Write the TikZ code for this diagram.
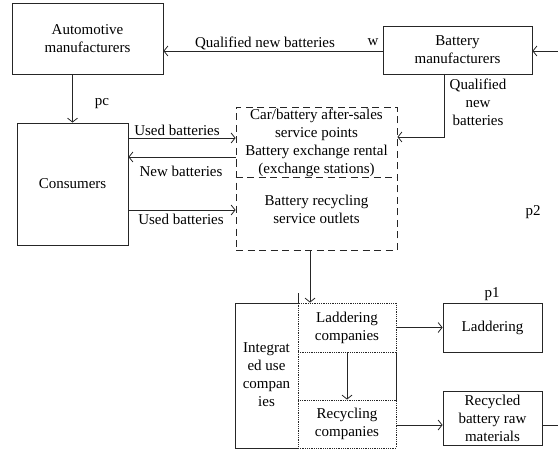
\documentclass[tikz,border=0pt]{standalone}
\usepackage{fontspec}
\setmainfont{Liberation Serif}
\usetikzlibrary{arrows.meta}

\tikzset{
  lbl/.style={inner sep=0pt, font=\fontsize{15}{18}\selectfont, align=center},
  boxed/.style={draw=black!85, line width=0.8pt, inner sep=0pt, font=\fontsize{15}{18}\selectfont, align=center},
  dotbox/.style={draw=black!85, line width=0.8pt, densely dotted, inner sep=0pt, font=\fontsize{15}{18}\selectfont, align=center},
  conn/.style={draw=black!85, line width=0.8pt, -{Straight Barb[length=4pt,width=10pt]}},
  plain/.style={draw=black!85, line width=0.8pt}
}

\begin{document}
\begin{tikzpicture}[x=1pt,y=-1pt]
\useasboundingbox (0,0) rectangle (558,452);

% main actors
\node[boxed, minimum width=151pt, minimum height=71pt] (auto) at (87.5,38.5) {Automotive\\manufacturers};
\node[boxed, minimum width=149pt, minimum height=48pt] (batt) at (457.5,50) {Battery\\manufacturers};
\node[boxed, minimum width=111pt, minimum height=122pt] (cons) at (72.5,184) {Consumers};

% service network (dashed)
\node[draw=black!85, line width=0.8pt, dash pattern=on 7pt off 4.5pt, minimum width=161pt, minimum height=143pt, inner sep=0pt] (hub) at (316.5,178.5) {};
\draw[black!85, line width=0.8pt, dash pattern=on 7pt off 4.5pt] (hub.west |- 0,177) -- (hub.east |- 0,177);
\node[lbl] (svc) at (316.5,143) {Car/battery after-sales\\service points\\Battery exchange rental\\(exchange stations)};
\node[lbl] (rec) at (316.5,209) {Battery recycling\\service outlets};

% integrated use companies
\draw[plain] (298,293) -- (298,303) -- (235,303) -- (235,448) -- (298,448);
\draw[plain] (396,352) -- (396,400);
\draw[black!85, line width=0.8pt, densely dotted] (298,352) -- (298,400);
\node[lbl] (intg) at (266.5,375) {Integrat\\ed use\\compan\\ies};
\node[dotbox, minimum width=98pt, minimum height=49pt] (lc) at (347,327.5) {Laddering\\companies};
\node[dotbox, minimum width=98pt, minimum height=48pt] (rc) at (347,424) {Recycling\\companies};

% outputs
\node[boxed, minimum width=99pt, minimum height=49pt] (lad) at (492.5,327.5) {Laddering};
\node[boxed, minimum width=99pt, minimum height=54pt] (raw) at (492.5,418) {Recycled\\battery raw\\materials};

% free ends at the right edge
\coordinate (inR) at (558,51);
\coordinate (outR) at (558,425);

% flows
\draw[conn] (batt.west |- 0,51) -- (auto.east |- 0,51);
\draw[conn] (inR) -- (batt.east |- inR);
\draw[conn] (cons.north |- auto.south) -- (cons.north);
\draw[conn] (444,74) |- (hub.east |- 0,137);
\draw[conn] (cons.east |- 0,138) -- (hub.west |- 0,138);
\draw[conn] (hub.west |- 0,157) -- (cons.east |- 0,157);
\draw[conn] (cons.east |- 0,210) -- (hub.west |- 0,210);
\draw[conn] (hub.south -| 310,0) -- (lc.north -| 310,0);
\draw[conn] (lc.south) -- (rc.north);
\draw[conn] (lc.east) -- (lad.west);
\draw[conn] (rc.east |- 0,425) -- (raw.west |- 0,425);
\draw[plain] (raw.east |- outR) -- (outR);

% labels
\node[lbl] (lq) at (265,43) {Qualified new batteries};
\node[lbl] (lw) at (373,42) {w};
\node[lbl] (lq2) at (478,102) {Qualified\\new\\batteries};
\node[lbl] (lpc) at (102,104) {pc};
\node[lbl] (lu1) at (177,130) {Used batteries};
\node[lbl] (ln) at (181,171) {New batteries};
\node[lbl] (lu2) at (181,219) {Used batteries};
\node[lbl] (lp1) at (492,294) {p1};
\node[lbl] (lp2) at (533,212) {p2};
\end{tikzpicture}
\end{document}
